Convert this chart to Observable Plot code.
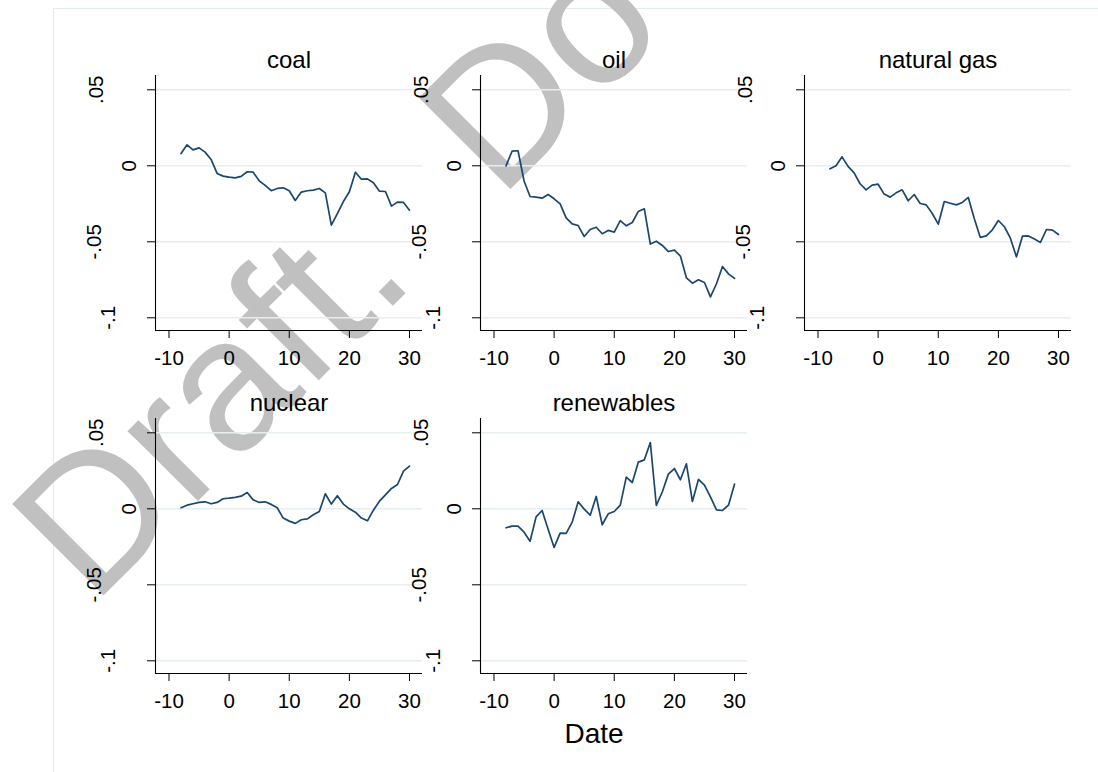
<!DOCTYPE html>
<html>
<head>
<meta charset="utf-8">
<script src="https://cdn.jsdelivr.net/npm/d3@7"></script>
<script src="https://cdn.jsdelivr.net/npm/@observablehq/plot@0.6"></script>
<style>
  html, body { margin: 0; padding: 0; background: #ffffff; }
  #root { position: relative; width: 1098px; height: 772px; overflow: hidden; font-family: "Liberation Sans", Arial, sans-serif; }
</style>
</head>
<body>
<div id="root"></div>
<script>
// ---------------- data ----------------
const dates = [-8,-7,-6,-5,-4,-3,-2,-1,0,1,2,3,4,5,6,7,8,9,10,11,12,13,14,15,16,17,18,19,20,21,22,23,24,25,26,27,28,29,30];

const coal = [0.0081,0.0138,0.0105,0.0118,0.0090,0.0042,-0.0050,-0.0068,-0.0075,-0.0079,-0.0070,-0.0039,-0.0042,-0.0099,-0.0129,-0.0164,-0.0149,-0.0145,-0.0164,-0.0228,-0.0173,-0.0164,-0.0160,-0.0149,-0.0178,-0.0390,-0.0314,-0.0235,-0.0171,-0.0042,-0.0088,-0.0086,-0.0112,-0.0167,-0.0169,-0.0265,-0.0239,-0.0241,-0.0292];

const oil = [0.0000,0.0096,0.0099,-0.0100,-0.0202,-0.0206,-0.0213,-0.0189,-0.0217,-0.0250,-0.0342,-0.0382,-0.0393,-0.0465,-0.0419,-0.0404,-0.0447,-0.0425,-0.0436,-0.0360,-0.0395,-0.0373,-0.0300,-0.0283,-0.0515,-0.0496,-0.0524,-0.0564,-0.0555,-0.0594,-0.0737,-0.0772,-0.0750,-0.0768,-0.0862,-0.0776,-0.0662,-0.0711,-0.0741];

const naturalGas = [-0.0020,0.0000,0.0059,-0.0004,-0.0046,-0.0118,-0.0158,-0.0127,-0.0121,-0.0186,-0.0206,-0.0178,-0.0158,-0.0230,-0.0189,-0.0248,-0.0257,-0.0314,-0.0384,-0.0235,-0.0246,-0.0257,-0.0241,-0.0208,-0.0349,-0.0471,-0.0461,-0.0421,-0.0360,-0.0401,-0.0476,-0.0599,-0.0463,-0.0461,-0.0482,-0.0504,-0.0419,-0.0423,-0.0452];

const nuclear = [0.0007,0.0024,0.0033,0.0042,0.0046,0.0033,0.0042,0.0066,0.0070,0.0075,0.0083,0.0107,0.0059,0.0042,0.0046,0.0029,0.0007,-0.0061,-0.0081,-0.0096,-0.0072,-0.0066,-0.0039,-0.0018,0.0099,0.0031,0.0086,0.0031,0.0000,-0.0022,-0.0061,-0.0079,-0.0009,0.0050,0.0092,0.0134,0.0160,0.0248,0.0281];

const renewables = [-0.0125,-0.0114,-0.0114,-0.0154,-0.0213,-0.0053,-0.0011,-0.0134,-0.0254,-0.0160,-0.0162,-0.0088,0.0046,-0.0002,-0.0042,0.0081,-0.0105,-0.0033,-0.0018,0.0024,0.0208,0.0173,0.0307,0.0322,0.0436,0.0022,0.0112,0.0228,0.0265,0.0191,0.0296,0.0048,0.0193,0.0156,0.0079,-0.0007,-0.0011,0.0024,0.0162];

const panelTitles = ["coal", "oil", "natural gas", "nuclear", "renewables"];
const xTicks = [-10, 0, 10, 20, 30];
const yTicks = [0.05, 0, -0.05, -0.1];
const yTickLabels = [".05", "0", "-.05", "-.1"];
const xAxisTitle = "Date";
const watermarkParts = ["Draft.", "Do not cite"];

// ---------------- layout / style ----------------
const series = [coal, oil, naturalGas, nuclear, renewables];
const FONT = "'Liberation Sans', Arial, Helvetica, sans-serif";
const lineColor = "#1a476f";
const gridColor = "#e6eef0";
const PW = 267, PH = 255, ML = 100, MR = 10, MT = 50, MB = 50;
const xDomain = [-12.245, 32.16];
const yDomain = [-0.10835, 0.05941];
const panelLeft = [154.5, 479.5, 804, 154.5, 479.5];
const panelTop = [75, 75, 75, 418, 418];

// Stata-like placement of vertical y labels (distance from axis depends on label)
function labelOffset(s) {
  let o = 12;
  for (const ch of s) o += ch === "." ? 18 : ch === "-" ? 2.5 : 14.5;
  return o;
}

const root = document.getElementById("root");

// background layer: graph-region border + watermark + x title
root.innerHTML = `
<svg width="1098" height="772" style="position:absolute;left:0;top:0" font-family="${FONT}">
  <rect x="0" y="0" width="1098" height="772" fill="#ffffff"/>
  <path d="M53.5,772 L53.5,8.5 L1098,8.5" fill="none" stroke="#e3ecee" stroke-width="1.2"/>
  <text x="92.8" y="606.2" transform="rotate(-45 92.8 606.2)" font-size="188" fill="#c0c0c0">${watermarkParts[0]}</text>
  <text x="499.4" y="199.9" transform="rotate(-45 499.4 199.9)" font-size="188" fill="#c0c0c0">${watermarkParts[1]}</text>
</svg>`;

series.forEach((vals, i) => {
  const data = dates.map((t, j) => ({t, v: vals[j]}));
  const chart = Plot.plot({
    width: ML + PW + MR,
    height: MT + PH + MB,
    marginLeft: ML, marginRight: MR, marginTop: MT, marginBottom: MB,
    x: {domain: xDomain},
    y: {domain: yDomain},
    style: {background: "transparent", overflow: "visible", fontFamily: FONT, color: "black"},
    marks: [
      Plot.gridY({ticks: yTicks, stroke: gridColor, strokeOpacity: 1, strokeWidth: 1.5}),
      Plot.axisX({ticks: xTicks, tickSize: 8, tickPadding: 12, tickFormat: d => String(d), fontSize: 20.5, label: null}),
      Plot.axisY({ticks: yTicks, tickSize: 8, tickFormat: () => "", label: null}),
      ...yTicks.map((tk, k) => Plot.text([tk], {
        y: d => d, text: () => yTickLabels[k], frameAnchor: "left",
        rotate: -90, dx: -labelOffset(yTickLabels[k]),
        textAnchor: "middle", lineAnchor: "middle", fontSize: 20.5, fill: "black"
      })),
      Plot.ruleX([xDomain[0]], {stroke: "black", strokeWidth: 1.1}),
      Plot.ruleY([yDomain[0]], {stroke: "black", strokeWidth: 1.1}),
      Plot.line(data, {x: "t", y: "v", stroke: lineColor, strokeWidth: 1.7}),
      Plot.text([panelTitles[i]], {text: d => d, frameAnchor: "top", lineAnchor: "bottom", dy: -8, fontSize: 24, fill: "black"})
    ]
  });
  chart.style.position = "absolute";
  chart.style.left = (panelLeft[i] - ML) + "px";
  chart.style.top = (panelTop[i] - MT) + "px";
  root.appendChild(chart);
});

// x-axis title
const t = document.createElementNS("http://www.w3.org/2000/svg", "svg");
t.setAttribute("width", "1098"); t.setAttribute("height", "772");
t.style.position = "absolute"; t.style.left = "0"; t.style.top = "0"; t.style.pointerEvents = "none";
t.innerHTML = `<text x="594" y="743" text-anchor="middle" font-size="28" font-family="${FONT}" fill="black">${xAxisTitle}</text>`;
root.appendChild(t);
</script>
</body>
</html>
